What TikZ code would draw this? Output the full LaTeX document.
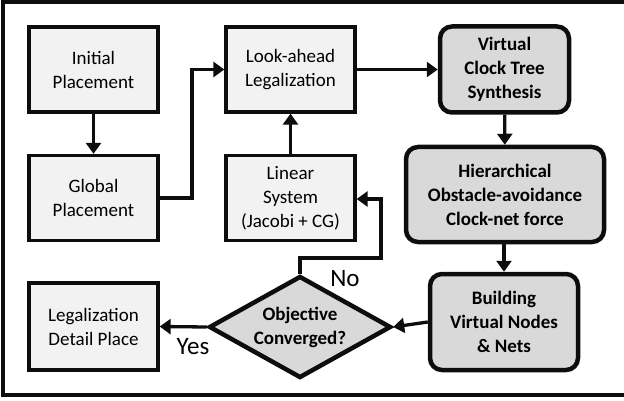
\documentclass[tikz,border=0pt]{standalone}
\usepackage{fontspec}
\setmainfont{Carlito}
\usetikzlibrary{arrows.meta,shapes.geometric}
\definecolor{lightfill}{HTML}{F2F2F2}
\definecolor{darkfill}{HTML}{D9D9D9}
\definecolor{linec}{HTML}{0D0D0D}
\begin{document}
\begin{tikzpicture}[x=1pt,y=-1pt,
  plainbox/.style={draw=linec,fill=lightfill,line width=3.3pt,minimum width=129pt,minimum height=85pt,align=center,inner sep=0pt,font=\fontsize{19}{24}\selectfont},
  darkbox/.style={draw=linec,fill=darkfill,line width=4.5pt,rounded corners=12pt,align=center,inner sep=0pt,font=\fontsize{19}{24}\selectfont\bfseries},
  arr/.style={draw=linec,line width=3.3pt,-{Triangle[length=11pt,width=15pt]}},
  lbl/.style={font=\fontsize{25}{28}\selectfont}]
\useasboundingbox (0,0) rectangle (624,401);
\draw[line width=3.3pt,draw=linec] (630,2) -- (3,2) -- (3,395) -- (630,395);
\node[plainbox] (init) at (93.5,69.5) {Initial\\Placement};
\node[plainbox] (glob) at (93.5,198) {Global\\Placement};
\node[plainbox] (look) at (290.5,69.5) {Look-ahead\\Legalization};
\node[plainbox] (lin) at (290.5,198) {Linear\\System\\(Jacobi + CG)};
\node[plainbox,minimum height=87pt] (leg) at (93.5,326.5) {Legalization\\Detail Place};
\node[darkbox,minimum width=129pt,minimum height=86pt] (vcts) at (504.5,69.5) {Virtual\\Clock Tree\\Synthesis};
\node[darkbox,minimum width=198pt,minimum height=95pt] (hier) at (505,194.5) {Hierarchical\\Obstacle-avoidance\\Clock-net force};
\node[darkbox,minimum width=148pt,minimum height=96pt] (build) at (504,322) {Building\\Virtual Nodes\\\& Nets};
\node[diamond,draw=linec,fill=darkfill,line width=4.5pt,minimum width=182pt,minimum height=102pt,aspect=1.78,inner sep=0pt] (obj) at (300,327) {};
\node[align=center,font=\fontsize{19}{24}\selectfont\bfseries] (objt) at (300,327) {Objective\\Converged?};
\draw[arr] (init) -- (glob);
\draw[arr] (glob.east) -- (192,198) -- (192,69.5) -- (look.west);
\draw[arr] (lin) -- (look);
\draw[arr] (look) -- (vcts);
\draw[arr] (vcts) -- (hier);
\draw[arr] (hier.south -| build.north) -- (build.north);
\draw[arr] (build.west) -- (obj.east);
\draw[arr] (obj.west) -- (leg.east);
\draw[arr] (obj.north) -- (300,258) -- (381,258) -- (381,199) -- (lin.east |- 0,199);
\node[lbl] (yes) at (193,347) {Yes};
\node[lbl] (no) at (345,279) {No};
\end{tikzpicture}
\end{document}
